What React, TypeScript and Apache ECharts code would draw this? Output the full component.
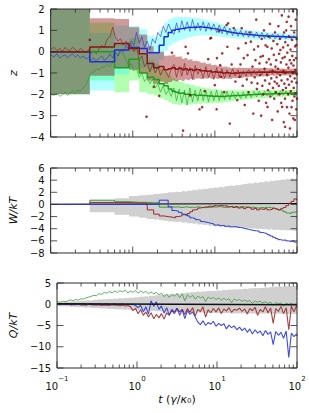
import React, { useEffect, useRef } from "react";
import * as echarts from "echarts";

// ---------- time grids ----------
const T_STEP = [0.1, 0.3, 0.6, 0.9, 1.2, 1.5, 1.8, 2.1, 2.4, 2.7,
  3.0, 3.3, 3.6, 3.96, 4.27, 4.6, 4.96, 5.34, 5.76, 6.2, 6.68, 7.2, 7.76, 8.36, 9.01, 9.71,
  10.5, 11.3, 12.2, 13.1, 14.1, 15.2, 16.4, 17.7, 19.1, 20.6, 22.2, 23.9, 25.7, 27.7, 29.9,
  32.2, 34.7, 37.4, 40.3, 43.4, 46.8, 50.4, 54.3, 58.5, 63, 67.9, 73.2, 78.9, 85, 91.6, 98.7, 100];

const T_FINE = [0.1, 0.11, 0.12, 0.13, 0.14, 0.15, 0.16, 0.17, 0.185, 0.2,
  0.215, 0.23, 0.25, 0.27, 0.29, 0.31, 0.335, 0.36, 0.39, 0.42,
  0.45, 0.49, 0.53, 0.57, 0.61, 0.66, 0.71, 0.77, 0.83, 0.89,
  0.96, 1.03, 1.11, 1.2, 1.29, 1.39, 1.5, 1.62, 1.74, 1.88,
  2.02, 2.18, 2.35, 2.53, 2.73, 2.94, 3.17, 3.41, 3.68, 3.96,
  4.27, 4.6, 4.96, 5.34, 5.76, 6.2, 6.68, 7.2, 7.76, 8.36,
  9.01, 9.71, 10.5, 11.3, 12.2, 13.1, 14.1, 15.2, 16.4, 17.7,
  19.1, 20.6, 22.2, 23.9, 25.7, 27.7, 29.9, 32.2, 34.7, 37.4,
  40.3, 43.4, 46.8, 50.4, 54.3, 58.5, 63, 67.9, 73.2, 78.9,
  85, 91.6, 98.7, 100];

// ---------- panel 1 (z): posterior step estimates ----------
const Z_RED = [0.0, 0.22, 0.38, 0.15, -0.1, -0.55, -0.75, -0.7, -0.85, -0.8,
  -0.75, -0.82, -0.78, -0.85, -0.8, -0.86, -0.82, -0.88, -0.84, -0.86,
  -0.9, -0.88, -0.92, -0.9, -0.95, -0.93, -0.97, -0.95, -1.0, -0.98,
  -1.0, -1.02, -0.99, -1.01, -0.98, -1.0, -0.97, -0.99, -0.96, -0.98,
  -0.96, -0.97, -0.95, -0.97, -0.95, -0.96, -0.94, -0.96, -0.95, -0.96,
  -0.95, -0.96, -0.95, -0.95, -0.94, -0.95, -0.95, -0.95];
const Z_BLUE = [0.0, -0.47, 0.08, 0.2, 0.15, -0.05, -0.05, 0.3, 0.7, 0.9,
  1.0, 1.05, 1.08, 1.1, 1.12, 1.15, 1.13, 1.16, 1.15, 1.17,
  1.15, 1.14, 1.12, 1.1, 1.08, 1.06, 1.04, 1.0, 0.98, 0.95,
  0.92, 0.9, 0.88, 0.86, 0.85, 0.83, 0.82, 0.8, 0.79, 0.78,
  0.77, 0.76, 0.75, 0.75, 0.74, 0.73, 0.72, 0.72, 0.71, 0.71,
  0.7, 0.7, 0.69, 0.69, 0.68, 0.68, 0.68, 0.68];
const Z_GREEN = [0.0, 0.0, -0.75, -0.35, -1.0, -1.2, -1.3, -1.5, -1.6, -1.75,
  -1.85, -1.9, -1.95, -1.93, -2.0, -1.98, -2.02, -2.0, -2.05, -2.03,
  -2.06, -2.05, -2.08, -2.07, -2.1, -2.08, -2.1, -2.09, -2.1, -2.08,
  -2.08, -2.07, -2.06, -2.05, -2.05, -2.04, -2.03, -2.02, -2.02, -2.01,
  -2.0, -2.0, -1.99, -1.99, -1.98, -1.98, -1.97, -1.97, -1.96, -1.96,
  -1.96, -1.95, -1.95, -1.95, -1.94, -1.94, -1.94, -1.94];
const Z_HALF = [2.0, 1.35, 1.15, 1.0, 0.9, 0.8, 0.75, 0.7, 0.66, 0.62,
  0.6, 0.58, 0.55, 0.52, 0.5, 0.48, 0.46, 0.44, 0.42, 0.4,
  0.38, 0.37, 0.35, 0.34, 0.33, 0.32, 0.31, 0.3, 0.29, 0.28,
  0.27, 0.26, 0.25, 0.24, 0.24, 0.23, 0.22, 0.22, 0.21, 0.21,
  0.2, 0.2, 0.19, 0.19, 0.18, 0.18, 0.17, 0.17, 0.17, 0.16,
  0.16, 0.16, 0.15, 0.15, 0.15, 0.15, 0.15, 0.15];

// ---------- panel 1 (z): true trajectories ----------
const ZT_RED = [0.1, 0.2, 0.05, 0.15, 0.0, 0.2, 0.1, 0.05, 0.2, 0.1,
  0.0, 0.15, 0.05, -0.05, 0.1, -0.1, 0.05, -0.1, 0.15, 0.3,
  0.2, 0.6, 0.7, 1.15, 0.7, 0.5, 0.6, 0.3, 0.5, 0.25,
  0.3, 0.0, 0.2, -0.4, -0.2, -0.7, -0.5, -0.95, -0.6, -1.0,
  -0.7, -1.1, -0.8, -0.95, -1.2, -0.8,
  -0.6, -1.2, -0.7, -1.15, -0.55, -1.1, -0.75, -1.3, -0.65, -1.05,
  -0.8, -1.25, -0.7, -1.2, -0.85, -1.3, -0.75, -1.2, -0.8, -1.25,
  -0.85, -1.2, -0.8, -1.15, -0.85, -1.2, -0.9, -1.15, -0.85, -1.12,
  -0.88, -1.1, -0.85, -1.08, -0.88, -1.1, -0.86, -1.05, -0.88, -1.06,
  -0.88, -1.05, -0.9, -1.04, -0.9, -1.02, -0.94, -0.96];
const ZT_BLUE = [-0.15, -0.25, -0.1, -0.3, -0.2, -0.15, -0.3, -0.2, -0.1, -0.25,
  -0.15, -0.3, -0.2, -0.35, -0.25, -0.4, -0.3, -0.45, -0.3, -0.2,
  -0.4, -0.3, -0.1, -0.3, 0.0, -0.2, 0.1, 0.0, 0.3, 0.1,
  0.5, 0.3, 0.9, 0.4, 0.7, 0.2, 0.5, 0.1, 0.6, 0.4,
  0.9, 0.7, 1.2, 0.9, 1.3, 1.0,
  0.8, 1.35, 0.9, 1.45, 1.0, 1.4, 0.95, 1.5, 1.0, 1.35,
  1.0, 1.4, 0.95, 1.35, 1.0, 1.3, 0.9, 1.25, 0.85, 1.2,
  0.8, 1.1, 0.75, 1.05, 0.72, 1.0, 0.7, 0.98, 0.68, 0.95,
  0.66, 0.92, 0.64, 0.9, 0.62, 0.86, 0.6, 0.84, 0.6, 0.82,
  0.6, 0.8, 0.6, 0.78, 0.6, 0.76, 0.62, 0.7];
const ZT_GREEN = [-2.0, -2.05, -1.95, -2.1, -2.0, -1.9, -2.05, -1.95, -1.85, -1.95,
  -1.8, -1.85, -1.7, -1.55, -1.25, -1.0, -0.95, -0.8, -0.85, -0.7,
  -0.75, -0.6, -0.7, -0.5, -0.35, -0.2, 0.0, -0.1, -0.4, -0.7,
  -0.55, -0.9, -0.8, -1.2, -1.0, -1.4, -1.2, -1.5, -1.3, -1.7,
  -1.5, -1.9, -1.6, -2.0, -1.8, -2.1,
  -1.7, -2.3, -1.75, -2.4, -1.8, -2.5, -1.7, -2.35, -1.8, -2.3,
  -1.75, -2.3, -1.8, -2.35, -1.85, -2.3, -1.8, -2.3, -1.85, -2.25,
  -1.85, -2.25, -1.85, -2.2, -1.9, -2.2, -1.88, -2.18, -1.88, -2.15,
  -1.86, -2.12, -1.85, -2.1, -1.84, -2.08, -1.85, -2.06, -1.84, -2.05,
  -1.84, -2.04, -1.84, -2.02, -1.85, -2.0, -1.86, -1.96];

const DOTS = [
  [0.3, 0.55], [1.47, -3.05], [1.8, -1.65], [2.1, -2.07], [3.0, -0.05], [4.1, -3.7], [4.4, 0.23],
  [4.7, -0.08], [5.0, -2.05], [6.5, -2.7], [7.0, -2.6], [7.5, -1.85], [8.3, -0.35], [8.8, 0.62],
  [9.0, 0.65], [10.0, -1.57], [10.5, -2.7], [10.6, -0.3], [11.2, 0.95], [11.6, -0.63], [11.9, -1.18],
  [12.3, -0.08], [13, -1.9], [13.9, 1.25], [14.2, 0.23], [14.5, 1.33], [15.2, -3.37], [16, -0.6],
  [17, 1.1], [17.8, -1.4], [18.7, -2.27], [19.3, 0.15], [19.9, -1.18],
  [20.5, -0.6], [21.2, 1.1], [21.8, -1.6], [22.5, -0.3], [23.1, -2.5], [23.8, 0.4], [24.5, -1.3],
  [25, -0.16], [25.7, -1.9], [26.4, 0.9], [27.4, 0.47], [28, -1.45], [28.7, -0.7], [29.4, -2.9], [30, 0.1],
  [30.6, -1.2], [31.2, -0.4], [31.9, 1.5], [32.5, -1.75], [33, -1.49], [33.6, 0.25], [34.2, -2.3],
  [34.9, -0.55], [35.5, -1.1], [36, -0.24], [36.6, -3.0], [37.2, 0.6], [37.8, -1.6], [38.4, -0.2],
  [39, -2.0], [39.6, 1.0], [40.2, -0.8], [40.8, -1.35],
  [41.4, 0.3], [42, -2.4], [42.6, -0.5], [43.2, -1.1], [43.6, 0.23], [43.8, -2.59], [44.4, -1.8],
  [45, 0.7], [45.6, -0.35], [46.2, -1.5], [46.8, 1.3], [47.4, -2.1], [48, -0.6], [48.6, -1.25],
  [49.2, 0.15], [49.8, -3.2], [50.4, -0.9], [51, -1.7], [51.6, 0.5], [52.2, -0.15], [52.8, -2.2],
  [53.4, -1.4], [54, 0.9], [54.6, -0.7], [55.2, -1.9],
  [55.8, -0.4], [56.4, -1.2], [57, -1.49], [57.6, 0.35], [58.2, -2.8], [58.8, -0.8], [59.4, 1.2],
  [60, -1.6], [60.6, -0.1], [61.2, -2.0], [61.8, 0.6], [62.4, -1.1], [62.7, 0.08], [63.6, -0.5],
  [64.2, -2.4], [64.8, -1.35], [65.4, 1.7], [66, -2.59], [66.6, -0.3], [67.2, -1.8], [67.8, 0.2],
  [68.4, -0.9], [69, -3.3], [69.6, 0.9], [70.2, -1.5],
  [70.8, -0.25], [71.4, -2.2], [71.6, -3.52], [72, 0.45], [72.6, -1.0], [73.2, -1.7], [73.8, 1.0],
  [74.4, -0.6], [75, 1.4], [75.6, -2.6], [76.2, -0.05], [76.8, -1.3], [77.4, 0.3], [78, -2.0],
  [78.6, -0.75], [79, 1.64], [79.8, -1.55], [80.4, 0.7], [81, -2.9], [81.6, -0.4], [82, -3.6],
  [82.8, -1.15], [83.4, 0.1], [84, -1.85], [84.6, 1.2],
  [85.2, -0.55], [85.8, -2.6], [86.4, -1.4], [87, 0.55], [87.6, -0.2], [88.2, -2.3], [88.8, -1.0],
  [89.4, 1.9], [90, -3.13], [90.6, -0.65], [91.2, -1.7], [91.7, -0.4], [92.4, 0.9], [93, -2.1],
  [93.6, -1.25], [94, -3.2], [94.8, 0.25], [95.4, -0.85], [96, -1.95], [96.6, 1.5], [97.2, -0.3],
  [97.8, -2.7], [98, 0.31], [98.4, -1.45], [99, 0.6], [99.4, -1.05], [99.8, -2.2]
];

// ---------- panel 2 (W/kT) ----------
const W_RED = [0.0, 0.3, 0.3, 0.25, 0.2, -0.9, -1.6, -1.9, -2.0, -2.1,
  -2.2, -2.0, -1.9, -1.7, -1.8, -1.5, -1.2, -0.9, -0.8, -0.6,
  -0.5, -0.4, -0.45, -0.3, -0.35, -0.2, -0.3, -0.15, -0.25, -0.2,
  -0.4, -0.3, -0.5, -0.35, -0.6, -0.45, -0.7, -0.5, -0.6, -0.8,
  -0.65, -0.9, -0.75, -0.85, -0.7, -0.9, -0.8, -0.6, -0.75, -0.9,
  -0.7, -0.5, -0.2, 0.2, 0.5, 0.9, 0.7, 0.7];
const W_GREEN = [0.0, 0.7, 0.45, 0.35, 0.35, 0.28, 0.28, -0.45, -0.45, -0.4,
  -0.45, -0.4, -0.5, -0.45, -0.4, -0.5, -0.45, -0.5, -0.4, -0.45,
  -0.5, -0.55, -0.45, -0.5, -0.4, -0.45, -0.35, -0.4, -0.5, -0.45,
  -0.4, -0.35, -0.45, -0.5, -0.4, -0.35, -0.45, -0.4, -0.5, -0.45,
  -0.55, -0.6, -0.5, -0.55, -0.45, -0.5, -0.6, -0.7, -0.8, -0.9,
  -1.0, -1.2, -1.4, -1.5, -1.3, -1.2, -1.1, -1.1];
const W_BLUE = [0.0, 0.0, 0.0, 0.0, 0.0, 0.0, 0.02, 0.7, 0.7, -0.4,
  -1.0, -1.1, -1.3, -1.6, -1.7, -1.9, -2.2, -2.3, -2.5, -2.6,
  -2.8, -2.9, -3.0, -3.1, -3.2, -3.4, -3.35, -3.5, -3.45, -3.6,
  -3.55, -3.7, -3.65, -3.75, -3.8, -3.9, -4.0, -4.1, -4.2, -4.3,
  -4.35, -4.4, -4.6, -4.7, -4.8, -5.0, -5.2, -5.4, -5.6, -5.8,
  -5.9, -5.85, -6.0, -6.1, -6.0, -6.2, -6.3, -6.3];
const W_GRAY_HI = [0, 0.75, 1.0, 1.4, 1.5, 1.6, 1.7, 1.8, 1.9, 2.0,
  2.0, 2.1, 2.05, 2.2, 2.15, 2.3, 2.25, 2.4, 2.35, 2.5,
  2.45, 2.6, 2.55, 2.7, 2.65, 2.8, 2.75, 2.9, 2.85, 3.0,
  3.05, 3.1, 3.05, 3.2, 3.15, 3.3, 3.35, 3.4, 3.5, 3.45,
  3.6, 3.55, 3.7, 3.65, 3.8, 3.75, 3.9, 3.85, 4.0, 4.0,
  4.1, 4.05, 4.2, 4.15, 4.3, 4.25, 4.4, 4.4];
const W_GRAY_LO = [0, -1.3, -1.7, -2.0, -2.2, -2.4, -2.5, -2.6, -2.7, -2.8,
  -2.8, -2.9, -2.85, -3.0, -2.95, -3.1, -3.05, -3.2, -3.15, -3.3,
  -3.25, -3.4, -3.35, -3.5, -3.45, -3.6, -3.55, -3.65, -3.6, -3.7,
  -3.75, -3.7, -3.8, -3.85, -3.8, -3.9, -3.85, -3.95, -3.9, -4.0,
  -3.95, -4.05, -4.0, -4.1, -4.05, -4.15, -4.1, -4.2, -4.15, -4.2,
  -4.25, -4.2, -4.3, -4.25, -4.3, -4.35, -4.3, -4.3];
const W_MEAN_T = [0.1, 100];
const W_MEAN = [0.0, 0.15];

// ---------- panel 3 (Q/kT) ----------
const Q_GREEN = [0.6, 0.5, 0.7, 0.6, 0.9, 1.0, 0.8, 1.1, 1.0, 1.3,
  1.2, 1.5, 1.7, 1.9, 2.1, 2.0, 2.5, 2.3, 2.8, 2.6,
  3.0, 2.7, 3.1, 2.8, 3.2, 2.9, 3.3, 2.7, 3.1, 2.8,
  3.2, 2.6, 3.1, 2.7, 3.0, 2.5, 2.9, 2.4, 2.8, 2.2,
  2.6, 1.8, 2.4, 1.6, 2.3, 1.9, 2.5, 1.5, 2.4, 0.8,
  2.2, 1.6, 2.1, 1.2, 1.9, 1.5, 1.8, 0.6, 1.7, 1.3,
  1.6, 1.1, 1.5, 0.9, 1.4, 1.0, 1.3, 0.4, 1.2, 0.9,
  1.1, 0.7, 1.0, 0.6, 0.9, 0.2, 0.8, 0.5, 0.7, 0.3,
  0.6, 0.2, 0.5, -0.3, 0.4, 0.1, 0.3, -0.5, 0.3, 0.0,
  0.2, -0.2, 0.1, 0.2];
const Q_RED = [0.0, -0.1, 0.05, -0.1, 0.0, -0.15, -0.05, -0.1, 0.0, -0.2,
  -0.1, -0.2, 0.0, -0.15, -0.1, -0.25, -0.1, -0.3, -0.15, -0.2,
  -0.3, -0.1, -0.25, -0.15, -0.35, -0.2, -0.4, -0.3, -0.6, -1.5,
  -1.0, -2.2, -1.3, -2.6, -1.8, -3.0, -2.0, -3.4, -2.4, -3.2,
  -2.2, -3.5, -2.0, -2.6, -1.5, -2.2, -1.0, -1.8, -1.2, -2.4,
  -1.0, -1.9, -0.8, -2.8, -1.2, -1.7, -0.6, -3.0, -1.3, -2.0,
  -1.0, -1.8, -0.9, -2.2, -1.1, -1.6, -0.8, -1.9, -1.2, -1.4,
  -0.9, -1.7, -1.1, -2.3, -1.0, -1.5, -0.7, -2.6, -1.2, -1.8,
  -0.6, -2.0, -0.9, -4.5, -1.0, -1.7, -0.5, -2.2, -0.8, -6.0,
  -0.4, -1.8, -0.3, -0.8];
const Q_BLUE = [0.0, 0.05, -0.05, 0.0, 0.05, -0.05, 0.0, 0.05, -0.05, 0.0,
  0.05, -0.05, 0.0, 0.05, -0.05, 0.0, 0.05, -0.05, 0.0, 0.05,
  -0.05, 0.0, 0.05, -0.05, 0.0, 0.05, -0.05, 0.0, -0.1, 0.0,
  -0.3, -0.8, -0.2, -1.8, -0.6, -2.3, 0.8, -0.5, 0.6, -1.2,
  -0.4, -2.1, -0.8, -2.5, -1.2, -1.9, -0.9, -2.6, -1.3, -3.4,
  -1.5, -2.4, -1.8, -3.0, -4.2, -4.8, -3.9, -5.0, -4.3, -4.7,
  -4.0, -5.2, -4.5, -5.0, -4.6, -5.8, -4.9, -5.5, -5.1, -6.0,
  -5.4, -6.2, -5.6, -6.6, -5.8, -7.0, -6.0, -6.8, -6.3, -7.4,
  -6.2, -7.1, -6.5, -9.5, -6.4, -7.3, -6.6, -8.0, -6.3, -12.5,
  -6.8, -7.6, -7.0, -7.5];
const Q_GRAY_HI = [0.4, 0.5, 0.45, 0.6, 0.55, 0.7, 0.65, 0.75, 0.7, 0.85,
  0.8, 0.9, 0.95, 0.9, 1.05, 1.0, 1.15, 1.1, 1.2, 1.15,
  1.3, 1.2, 1.35, 1.3, 1.45, 1.35, 1.5, 1.45, 1.6, 1.5,
  1.7, 1.6, 1.8, 1.75, 1.9, 1.85, 2.0, 1.95, 2.15, 2.05,
  2.25, 2.15, 2.35, 2.3, 2.5, 2.4, 2.6, 2.5, 2.7, 2.6,
  2.8, 2.7, 2.9, 2.8, 3.0, 2.9, 3.05, 3.0, 3.15, 3.05,
  3.2, 3.1, 3.3, 3.2, 3.4, 3.3, 3.5, 3.4, 3.55, 3.5,
  3.6, 3.55, 3.7, 3.6, 3.75, 3.7, 3.85, 3.75, 3.9, 3.85,
  4.0, 3.9, 4.05, 4.0, 4.15, 4.05, 4.2, 4.1, 4.3, 4.2,
  4.35, 4.25, 4.4, 4.4];
const Q_GRAY_LO = [-0.4, -0.45, -0.5, -0.45, -0.55, -0.6, -0.55, -0.65, -0.7, -0.65,
  -0.75, -0.8, -0.75, -0.85, -0.9, -0.85, -0.95, -1.0, -0.95, -1.05,
  -1.1, -1.05, -1.15, -1.2, -1.15, -1.25, -1.3, -1.25, -1.35, -1.3,
  -1.4, -1.35, -1.45, -1.5, -1.45, -1.55, -1.6, -1.55, -1.65, -1.6,
  -1.7, -1.65, -1.75, -1.7, -1.8, -1.75, -1.85, -1.8, -1.9, -1.85,
  -1.9, -1.95, -1.9, -2.0, -1.95, -2.0, -1.95, -2.05, -2.0, -2.05,
  -2.0, -2.1, -2.05, -2.1, -2.05, -2.1, -2.05, -2.15, -2.1, -2.15,
  -2.1, -2.15, -2.1, -2.2, -2.15, -2.2, -2.15, -2.2, -2.15, -2.2,
  -2.2, -2.25, -2.2, -2.25, -2.2, -2.25, -2.2, -2.3, -2.25, -2.3,
  -2.25, -2.3, -2.3, -2.3];
const Q_MEAN_T = [0.1, 100];
const Q_MEAN = [0.1, -0.1];

// ---------- ticks ----------
const X_MAJOR = [0.1, 1, 10, 100];
const X_MINOR = [0.2, 0.3, 0.4, 0.5, 0.6, 0.7, 0.8, 0.9, 2, 3, 4, 5, 6, 7, 8, 9,
  20, 30, 40, 50, 60, 70, 80, 90];
const Y_TICKS = [[-4, -3, -2, -1, 0, 1, 2], [-8, -6, -4, -2, 0, 2, 4, 6], [-15, -10, -5, 0, 5]];
const Y_AXES = [
  { min: -4, max: 2, interval: 1, name: "z" },
  { min: -8, max: 6, interval: 2, name: "W/kT" },
  { min: -15, max: 5, interval: 5, name: "Q/kT" },
];

const C_RED = "#8b1414";
const C_BLUE = "#1f2fd6";
const C_GREEN = "#1f9a1f";
const FONT = "DejaVu Sans";

const GRID_TOPS = [9, 168, 283];
const GRID_HEIGHTS = [128, 85, 85];

function pairs(T: number[], V: number[]) {
  const out: number[][] = [];
  for (let i = 0; i < T.length && i < V.length; i++) out.push([T[i], V[i]]);
  return out;
}

function lineS(k: number, T: number[], V: number[], color: string, width: number, opacity = 1, step: any = false, z = 3) {
  return {
    type: "line", xAxisIndex: k, yAxisIndex: k, data: pairs(T, V), step,
    showSymbol: false, symbol: "none", silent: true, z,
    lineStyle: { color, width, opacity },
  };
}

function stepBand(k: number, T: number[], lo: number[], hi: number[], color: string, opacity: number, z = 1) {
  return {
    type: "custom", xAxisIndex: k, yAxisIndex: k, silent: true, z,
    data: [[T[0], lo[0]]],
    renderItem: (params: any, api: any) => {
      const top: number[][] = [];
      const bot: number[][] = [];
      for (let i = 0; i < T.length - 1; i++) {
        top.push(api.coord([T[i], hi[i]]), api.coord([T[i + 1], hi[i]]));
        bot.push(api.coord([T[i], lo[i]]), api.coord([T[i + 1], lo[i]]));
      }
      return { type: "polygon", shape: { points: top.concat(bot.reverse()) }, style: { fill: color, opacity } };
    },
  };
}

function smoothBand(k: number, T: number[], lo: number[], hi: number[], color: string, opacity: number, z = 1) {
  return {
    type: "custom", xAxisIndex: k, yAxisIndex: k, silent: true, z,
    data: [[T[0], lo[0]]],
    renderItem: (params: any, api: any) => {
      const top: number[][] = [];
      const bot: number[][] = [];
      for (let i = 0; i < T.length; i++) {
        top.push(api.coord([T[i], hi[i]]));
        bot.push(api.coord([T[i], lo[i]]));
      }
      return { type: "polygon", shape: { points: top.concat(bot.reverse()) }, style: { fill: color, opacity } };
    },
  };
}

function frameS(k: number) {
  const ymin = Y_AXES[k].min;
  return {
    type: "custom", xAxisIndex: k, yAxisIndex: k, silent: true, z: 30, clip: false,
    data: [[0.1, ymin]],
    renderItem: (params: any, api: any) => {
      const cs = params.coordSys;
      const st = { stroke: "#2a2a2a", lineWidth: 0.8, fill: null };
      const ch: any[] = [];
      const bottom = cs.y + cs.height;
      X_MAJOR.forEach((t) => {
        const x = api.coord([t, ymin])[0];
        ch.push({ type: "line", shape: { x1: x, y1: bottom, x2: x, y2: bottom - 6.5 }, style: st });
        ch.push({ type: "line", shape: { x1: x, y1: cs.y, x2: x, y2: cs.y + 6.5 }, style: st });
      });
      X_MINOR.forEach((t) => {
        const x = api.coord([t, ymin])[0];
        ch.push({ type: "line", shape: { x1: x, y1: bottom, x2: x, y2: bottom - 3.5 }, style: st });
        ch.push({ type: "line", shape: { x1: x, y1: cs.y, x2: x, y2: cs.y + 3.5 }, style: st });
      });
      Y_TICKS[k].forEach((v) => {
        const y = api.coord([1, v])[1];
        ch.push({ type: "line", shape: { x1: cs.x, y1: y, x2: cs.x + 6.5, y2: y }, style: st });
        ch.push({ type: "line", shape: { x1: cs.x + cs.width, y1: y, x2: cs.x + cs.width - 6.5, y2: y }, style: st });
      });
      ch.push({ type: "rect", shape: { x: cs.x, y: cs.y, width: cs.width, height: cs.height },
        style: { stroke: "#2a2a2a", lineWidth: 1, fill: null } });
      return { type: "group", children: ch };
    },
  };
}

function lowOf(V: number[], H: number[]) { return V.map((v, i) => v - H[i]); }
function highOf(V: number[], H: number[]) { return V.map((v, i) => v + H[i]); }

export default function App() {
  const ref = useRef<HTMLDivElement>(null);
  useEffect(() => {
    if (!ref.current) return;
    const chart = echarts.init(ref.current, null, { renderer: "svg" });
    const series: any[] = [
      // panel 1 bands
      stepBand(0, T_STEP, lowOf(Z_GREEN, Z_HALF), highOf(Z_GREEN, Z_HALF), "#00ff00", 0.3, 1),
      stepBand(0, T_STEP, lowOf(Z_BLUE, Z_HALF), highOf(Z_BLUE, Z_HALF), "#00ffff", 0.3, 1),
      stepBand(0, T_STEP, lowOf(Z_RED, Z_HALF), highOf(Z_RED, Z_HALF), "#8b0000", 0.4, 1),
      lineS(0, T_FINE, ZT_GREEN, C_GREEN, 0.7, 0.85),
      lineS(0, T_FINE, ZT_BLUE, C_BLUE, 0.7, 0.85),
      lineS(0, T_FINE, ZT_RED, C_RED, 0.7, 0.85),
      lineS(0, T_STEP, Z_GREEN, C_GREEN, 1.5, 1, "end", 4),
      lineS(0, T_STEP, Z_BLUE, C_BLUE, 1.5, 1, "end", 4),
      lineS(0, T_STEP, Z_RED, C_RED, 1.5, 1, "end", 4),
      {
        type: "scatter", xAxisIndex: 0, yAxisIndex: 0, data: DOTS, symbolSize: 2.6, silent: true, z: 6,
        itemStyle: { color: "#8b0000" },
      },
      frameS(0),
      // panel 2
      stepBand(1, T_STEP, W_GRAY_LO, W_GRAY_HI, "#d0d0d0", 1, 1),
      lineS(1, W_MEAN_T, W_MEAN, "#111111", 1.2, 1, false, 3),
      lineS(1, T_STEP, W_GREEN, "#3a9a3a", 1, 1, "end", 4),
      lineS(1, T_STEP, W_RED, "#9a2a2a", 1, 1, "end", 4),
      lineS(1, T_STEP, W_BLUE, "#2a3ad8", 1, 1, "end", 4),
      frameS(1),
      // panel 3
      smoothBand(2, T_FINE, Q_GRAY_LO, Q_GRAY_HI, "#d0d0d0", 1, 1),
      lineS(2, T_FINE, Q_GREEN, "#3aa03a", 0.9, 0.9),
      lineS(2, T_FINE, Q_RED, "#9a2020", 1.1, 0.85),
      lineS(2, T_FINE, Q_BLUE, "#1f2fd6", 1.1, 0.85),
      lineS(2, Q_MEAN_T, Q_MEAN, "#111111", 1.5, 1, false, 5),
      frameS(2),
    ];
    const option: any = {
      animation: false,
      backgroundColor: "#ffffff",
      textStyle: { fontFamily: FONT },
      grid: GRID_TOPS.map((top, k) => ({ left: 45, top, width: 252, height: GRID_HEIGHTS[k], show: false })),
      xAxis: [0, 1, 2].map((k) => ({
        type: "log", logBase: 10, min: 0.1, max: 100, gridIndex: k,
        axisLine: { show: false }, axisTick: { show: false }, splitLine: { show: false },
        axisLabel: k === 2 ? {
          show: true, margin: 7, color: "#111",
          formatter: (v: number) => {
            const e = Math.round(Math.log10(v));
            return "{b|10}{s|" + (e < 0 ? "\u2212" + -e : String(e)) + "}";
          },
          rich: {
            b: { fontSize: 10, lineHeight: 16, verticalAlign: "bottom", fontFamily: FONT, color: "#111" },
            s: { fontSize: 7, lineHeight: 8, verticalAlign: "top", fontFamily: FONT, color: "#111" },
          },
        } : { show: false },
        ...(k === 2 ? {
          name: "{i|t} ({i|\u03b3}/{i|\u03ba}\u2080)",
          nameLocation: "middle", nameGap: 26,
          nameTextStyle: { fontSize: 11, color: "#111", fontFamily: FONT,
            rich: { i: { fontStyle: "italic", fontSize: 11, fontFamily: FONT, color: "#111" } } },
        } : {}),
      })),
      yAxis: Y_AXES.map((c, k) => ({
        type: "value", gridIndex: k, min: c.min, max: c.max, interval: c.interval,
        axisLine: { show: false }, axisTick: { show: false }, splitLine: { show: false },
        axisLabel: { fontSize: 10, color: "#111", margin: 6,
          formatter: (v: number) => (v < 0 ? "\u2212" + Math.abs(v) : String(v)) },
        name: c.name, nameLocation: "middle", nameGap: 24, nameRotate: 90,
        nameTextStyle: { fontSize: 11, fontStyle: "italic", color: "#111", fontFamily: FONT },
      })),
      series,
    };
    chart.setOption(option);
    return () => chart.dispose();
  }, []);
  return (
    <div
      ref={ref}
      style={{ position: "absolute", left: 0, top: 0, width: 309, height: 413, background: "#fff" }}
    />
  );
}
